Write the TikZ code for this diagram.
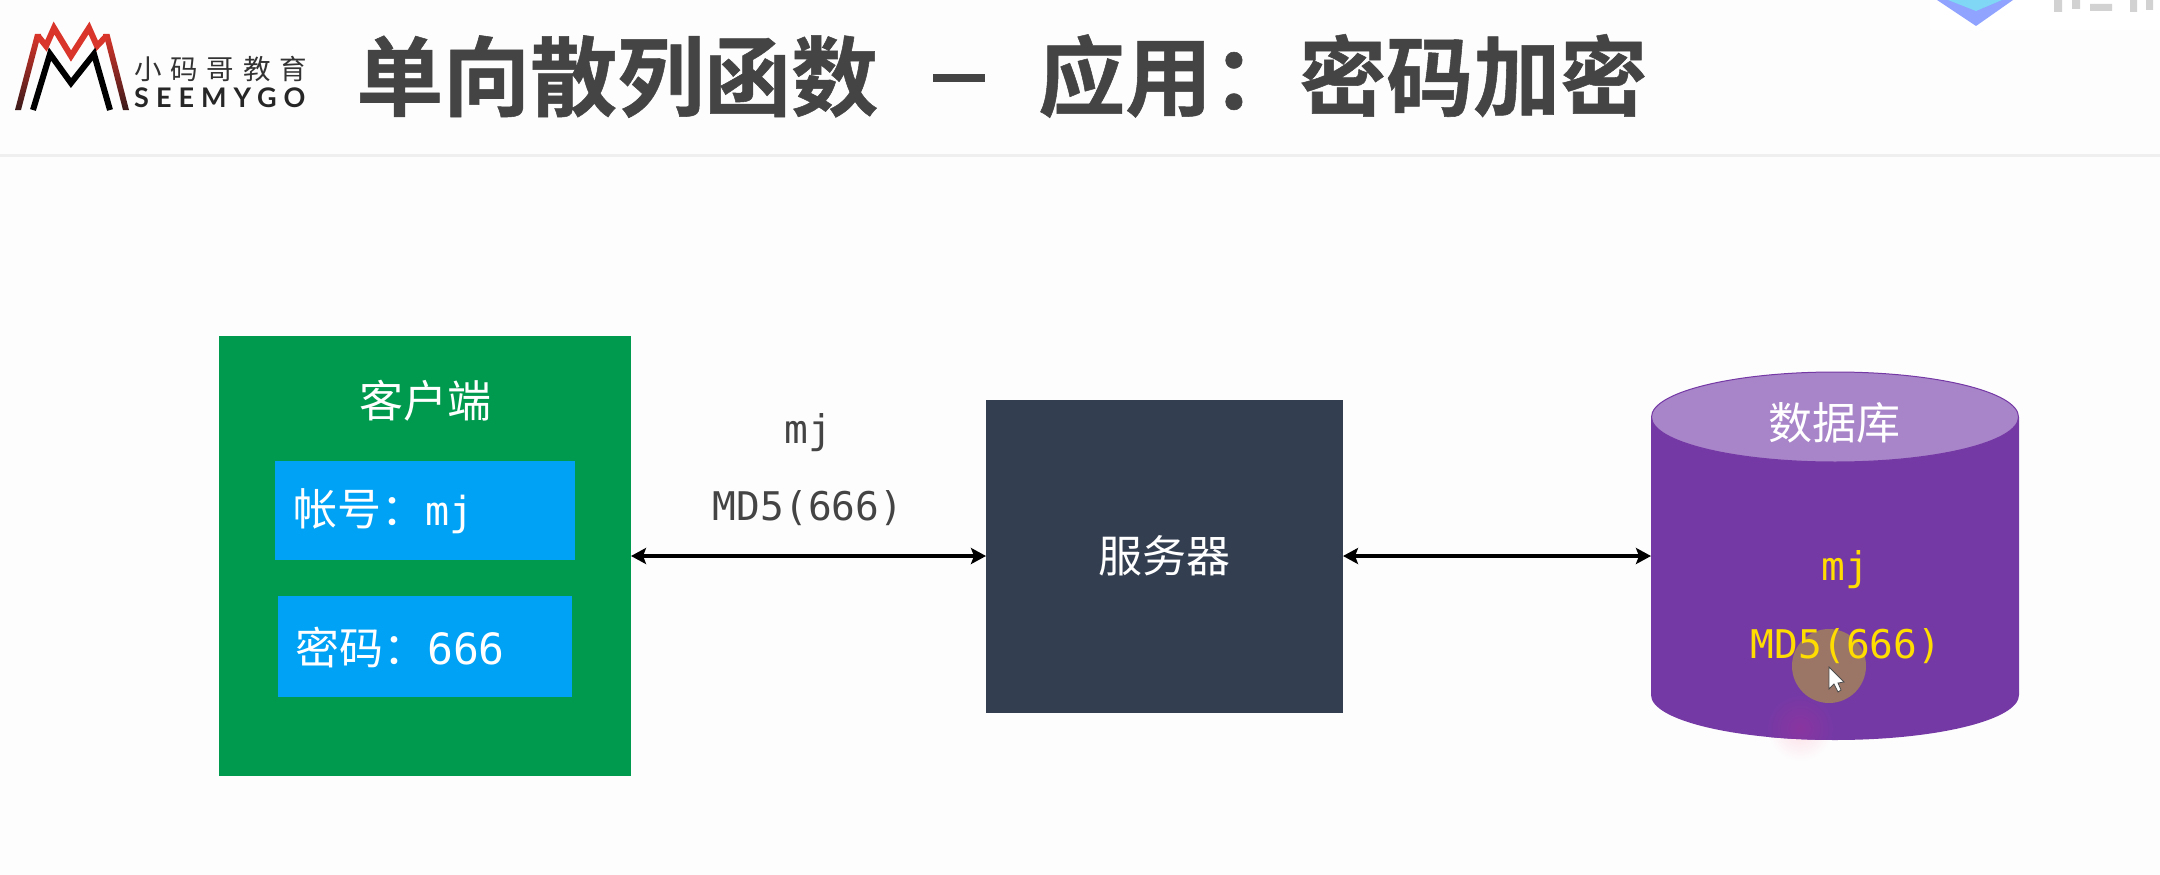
\documentclass[tikz,border=0pt]{standalone}
\usepackage{fontspec}
\usetikzlibrary{arrows.meta}
\newfontfamily\cjk{Noto Sans CJK SC}
\newfontfamily\cjkbold{Noto Sans CJK SC Bold}[FakeBold=0.6]
\newfontfamily\cjkspaced{Noto Sans CJK SC}[LetterSpace=32]
\newfontfamily\monof{DejaVu Sans Mono}
\newfontfamily\logof{Lato}[LetterSpace=26]
\newcommand{\fwcolon}{\symbol{"FF1A}}
\definecolor{pagebg}{HTML}{FDFDFD}
\definecolor{rule}{HTML}{EFEFEF}
\definecolor{titlec}{HTML}{444444}
\definecolor{grn}{HTML}{009A4E}
\definecolor{blu}{HTML}{00A2F5}
\definecolor{srv}{HTML}{333E50}
\definecolor{purp}{HTML}{7539A5}
\definecolor{purpt}{HTML}{A884C9}
\definecolor{yel}{HTML}{FFDD00}
\definecolor{logor}{HTML}{D9352A}
\definecolor{logod}{HTML}{3A1A1A}
\definecolor{pinkin}{HTML}{8A35A0}
\definecolor{ptr}{HTML}{9B7566}
\definecolor{pinkout}{HTML}{FBDDE6}
\definecolor{wmblue}{HTML}{8FA3FF}
\definecolor{wmcyan}{HTML}{7FD6F5}
\tikzset{
  x=1pt,y=-1pt,
  boxn/.style={draw=none,inner sep=0pt,outer sep=0pt,anchor=center},
  wt/.style={text=white,inner sep=0pt,font=\fontsize{44}{50}\selectfont\cjk},
  gtxt/.style={text=titlec,inner sep=0pt,font=\fontsize{39.5}{46}\selectfont\monof},
  ytxt/.style={text=yel,inner sep=0pt,font=\fontsize{39.5}{46}\selectfont\monof},
  link/.style={draw=black,line width=3.5pt,{Stealth[length=15pt,width=16pt,inset=3pt]}-{Stealth[length=15pt,width=16pt,inset=3pt]}},
  logored/.style={draw=logor,line width=6pt,line join=miter},
  logoblk/.style={draw=black,line width=6pt,line join=miter},
}
\begin{document}
\begin{tikzpicture}
\useasboundingbox (0,0) rectangle (2160,875);
\fill[pagebg] (0,0) rectangle (2160,875);
\fill[rule] (0,154) rectangle (2160,157);
% watermark at top right
\fill[white] (1930,0) rectangle (2160,30);
\fill[wmblue] (1937,0) -- (1976,26) -- (2013,0) -- cycle;
\fill[wmcyan] (1948,0) -- (1976,11) -- (2002,0) -- cycle;
\fill[gray!35] (2054,0) rectangle (2062,12) (2072,0) rectangle (2080,9) (2090,4) rectangle (2112,11) (2130,0) rectangle (2137,12) (2146,0) rectangle (2153,10);
% logo
\shade[top color=logor,bottom color=logod] (35,34) -- (41,34) -- (21,110) -- (15,110) -- cycle;
\shade[top color=logor,bottom color=logod] (103.5,34) -- (109.5,34) -- (129,110) -- (123,110) -- cycle;
\draw[logored] (38,36) -- (46,46) -- (54,28) -- (71,56) -- (89,28) -- (97,46) -- (106.5,36);
\draw[logoblk] (33,110) -- (50,54) -- (71,83) -- (94,54) -- (110,110);
\node[anchor=west,inner sep=0pt,font=\fontsize{27.5}{30}\selectfont\cjkspaced,text=black!80] (logocn) at (134,69) {小码哥教育};
\node[anchor=west,inner sep=0pt,font=\fontsize{27}{30}\selectfont\logof\bfseries,text=black!85] (logoen) at (134,98) {SEEMYGO};
% title
\node[anchor=west,inner sep=0pt,text=titlec,font=\fontsize{87}{95}\selectfont\cjkbold] (title) at (356,76) {单向散列函数\hspace{55pt}\rule[0.31em]{52pt}{8pt}\hspace{53pt}应用\fwcolon 密码加密};
% client
\node[boxn,fill=grn,minimum width=412pt,minimum height=440pt] (client) at (425,556) {};
\node[wt] (clientlabel) at (425,401) {客户端};
\node[boxn,fill=blu,minimum width=300pt,minimum height=99pt] (acct) at (425,510) {};
\node[boxn,fill=blu,minimum width=294pt,minimum height=101pt] (pwd) at (425,646) {};
\node[wt,anchor=west] (acctlabel) at (293,511) {帐号\fwcolon{\fontsize{40}{46}\selectfont\monof mj}};
\node[wt,anchor=west] (pwdlabel) at (295,648) {密码\fwcolon{\fontsize{43}{46}\selectfont\monof 666}};
% server
\node[boxn,fill=srv,minimum width=357pt,minimum height=313pt] (server) at (1164.5,556) {};
\node[wt] (serverlabel) at (1164,556) {服务器};
% messages
\node[gtxt] (msgmj) at (808,433) {mj};
\node[gtxt] (msgmd) at (808,508) {MD5(666)};
% database
\node[boxn,minimum width=368pt,minimum height=368pt] (db) at (1835,556) {};
\shade[inner color=pinkout,outer color=pagebg] (1800,728) circle[radius=33];
\fill[purp] (1651,417) -- (1651,695) arc[start angle=180,end angle=360,x radius=184,y radius=-45] -- (2019,417) -- cycle;
\fill[purpt,draw=purp,line width=1pt] (1835,417) ellipse[x radius=183.5,y radius=45];
\node[wt] (dblabel) at (1834,423) {数据库};
% pointer highlights
\begin{scope}
\clip (1651,417) -- (1651,695) arc[start angle=180,end angle=360,x radius=184,y radius=-45] -- (2019,417) -- cycle;
\shade[inner color=pinkin,outer color=purp] (1800,728) circle[radius=33];
\end{scope}
\fill[ptr] (1829,666) circle[radius=37];
\node[ytxt] (dbmj) at (1845,570) {mj};
\node[ytxt] (dbmd) at (1846,646) {MD5(666)};
\draw[fill=white,draw=black!70,line width=.8pt] (1829,667) -- (1829,689) -- (1834,684) -- (1838,692) -- (1841,690) -- (1838,683) -- (1844,682) -- cycle;
% connectors
\draw[link] (client) -- (server);
\draw[link] (server) -- (db);
\end{tikzpicture}
\end{document}
